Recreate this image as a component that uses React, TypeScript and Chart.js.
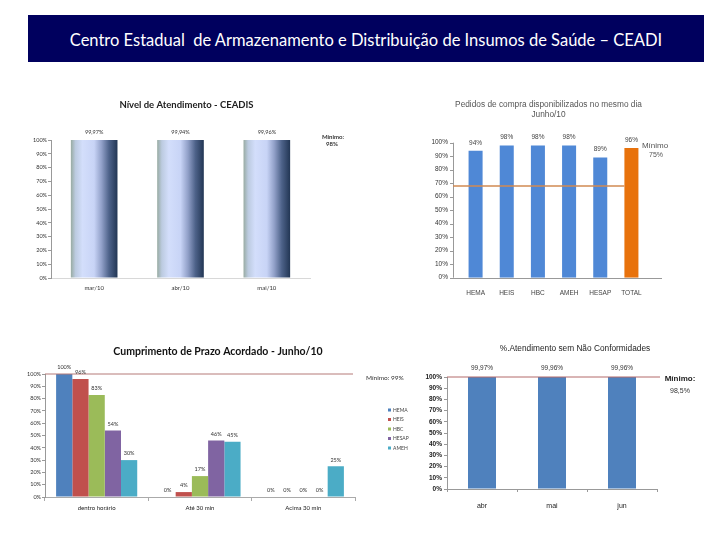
import React, { useEffect, useRef } from 'react';
import { Chart, registerables } from 'chart.js';

Chart.register(...registerables);

// ---------- data ----------
const HEADER_TITLE = 'Centro Estadual  de Armazenamento e Distribuição de Insumos de Saúde – CEADI';

// Chart 1
const nivelTitle = 'Nível de Atendimento - CEADIS';
const nivelMonths = ['mar/10', 'abr/10', 'mai/10'];
const nivelValues = [99.97, 99.94, 99.96];
const nivelMinimo = ['Mínimo:', '98%'];

// Chart 2
const pedidosTitle = ['Pedidos de compra disponibilizados no mesmo dia', 'Junho/10'];
const pedidosUnits = ['HEMA', 'HEIS', 'HBC', 'AMEH', 'HESAP', 'TOTAL'];
const pedidosValues = [94, 98, 98, 98, 89, 96];
const pedidosLine = [68];
const pedidosMinimo = ['Mínimo', '75%'];

// Chart 3
const prazoTitle = 'Cumprimento de Prazo Acordado - Junho/10';
const prazoCategories = ['dentro horário', 'Até 30 min', 'Acima 30 min'];
const prazoSeries = ['HEMA', 'HEIS', 'HBC', 'HESAP', 'AMEH'];
const prazoHEMA = [100, 0, 0];
const prazoHEIS = [96, 4, 0];
const prazoHBC = [83, 17, 0];
const prazoHESAP = [54, 46, 0];
const prazoAMEH = [30, 45, 25];
const prazoLine = [100];
const prazoMinimo = 'Mínimo: 99%';

// Chart 4
const confTitle = '%.Atendimento sem Não Conformidades';
const confMonths = ['abr', 'mai', 'jun'];
const confValues = [99.97, 99.96, 99.96];
const confLine = [100];
const confMinimo = ['Mínimo:', '98,5%'];

// ---------- helpers ----------
const FONT = 'Lato, "Open Sans", sans-serif';
const NARROW = '"Liberation Sans Narrow", "Liberation Sans", Arial, sans-serif';

const pct = (v: any) => v + '%';
const pctComma = (v: number) => v.toFixed(2).replace('.', ',') + '%';
const fixW = (w: number) => (scale: any) => { scale.width = w; };
const fixH = (h: number) => (scale: any) => { scale.height = h; };

function drawText(ctx: CanvasRenderingContext2D, s: string, x: number, y: number, font: string, color: string, align: CanvasTextAlign = 'center') {
  ctx.save();
  ctx.font = font;
  ctx.fillStyle = color;
  ctx.textAlign = align;
  ctx.textBaseline = 'middle';
  ctx.fillText(s, x, y);
  ctx.restore();
}

function hLine(ctx: CanvasRenderingContext2D, x1: number, x2: number, y: number, color: string, w: number) {
  ctx.save();
  ctx.strokeStyle = color;
  ctx.lineWidth = w;
  ctx.beginPath();
  ctx.moveTo(x1, y);
  ctx.lineTo(x2, y);
  ctx.stroke();
  ctx.restore();
}

type Box = { left: number; top: number; width: number; height: number };

function ChartCanvas({ box, make }: { box: Box; make: (c: HTMLCanvasElement) => Chart }) {
  const ref = useRef<HTMLCanvasElement>(null);
  useEffect(() => {
    const chart = make(ref.current as HTMLCanvasElement);
    return () => chart.destroy();
  }, []);
  return (
    <canvas
      ref={ref}
      width={box.width}
      height={box.height}
      style={{ position: 'absolute', left: box.left, top: box.top, width: box.width, height: box.height }}
    />
  );
}

// ---------- chart 1 ----------
const NIVEL_BAR = 0.54;
function nivelGradient(c: any) {
  const chart = c.chart;
  const xs = chart.scales && chart.scales.x;
  if (!xs || typeof c.dataIndex !== 'number') return '#c9d6f5';
  const cx = xs.getPixelForValue(c.dataIndex);
  const w = (xs.width / nivelMonths.length) * NIVEL_BAR;
  if (!isFinite(cx) || !isFinite(w)) return '#c9d6f5';
  const g = chart.ctx.createLinearGradient(cx - w / 2, 0, cx + w / 2, 0);
  g.addColorStop(0, '#98aba2');
  g.addColorStop(0.1, '#bccbe0');
  g.addColorStop(0.25, '#d3defb');
  g.addColorStop(0.5, '#c8d4f6');
  g.addColorStop(0.66, '#91a0c8');
  g.addColorStop(0.82, '#4d6289');
  g.addColorStop(1, '#223654');
  return g;
}

function makeNivel(canvas: HTMLCanvasElement) {
  return new Chart(canvas, {
    type: 'bar',
    data: {
      labels: nivelMonths,
      datasets: [{ data: nivelValues, backgroundColor: nivelGradient, borderWidth: 0, barPercentage: NIVEL_BAR, categoryPercentage: 1 }],
    },
    options: {
      responsive: false,
      animation: false,
      layout: { padding: { left: 1, top: 50, right: 50, bottom: 2 } },
      plugins: { legend: { display: false }, tooltip: { enabled: false }, title: { display: false } },
      scales: {
        x: {
          grid: { display: false, drawTicks: false },
          border: { display: true, color: '#d8d8d8' },
          ticks: { padding: 6, font: { family: FONT, size: 6 }, color: '#333', maxRotation: 0 },
          afterFit: fixH(20),
        },
        y: {
          min: 0,
          max: 100,
          ticks: { stepSize: 10, callback: pct, padding: 1, font: { family: FONT, size: 5.5 }, color: '#333' },
          grid: { drawOnChartArea: false, drawTicks: true, tickLength: 3, color: '#999' },
          border: { color: '#999' },
          afterFit: fixW(20),
        },
      },
    } as any,
    plugins: [
      {
        id: 'nivelDeco',
        afterDraw(chart: any) {
          const ctx = chart.ctx;
          const a = chart.chartArea;
          drawText(ctx, nivelTitle, (a.left + a.right) / 2 + 6, 15, `bold 9.5px ${FONT}`, '#222');
          chart.getDatasetMeta(0).data.forEach((bar: any, i: number) => {
            drawText(ctx, pctComma(nivelValues[i]), bar.x, bar.y - 8, `5.5px ${FONT}`, '#333');
          });
          drawText(ctx, nivelMinimo[0], a.right + 23, a.top - 3, `bold 6px ${FONT}`, '#333');
          drawText(ctx, nivelMinimo[1], a.right + 22, a.top + 4, `bold 6px ${FONT}`, '#333');
        },
      },
    ],
  });
}

// ---------- chart 2 ----------
function makePedidos(canvas: HTMLCanvasElement) {
  return new Chart(canvas, {
    type: 'bar',
    data: {
      labels: pedidosUnits,
      datasets: [
        {
          data: pedidosValues,
          backgroundColor: pedidosUnits.map((u) => (u === 'TOTAL' ? '#e8720c' : '#4f88d6')),
          borderWidth: 0,
          barPercentage: 0.45,
          categoryPercentage: 1,
        },
      ],
    },
    options: {
      responsive: false,
      animation: false,
      layout: { padding: { left: 10, top: 52.7, right: 58, bottom: 0.3 } },
      plugins: { legend: { display: false }, tooltip: { enabled: false }, title: { display: false } },
      scales: {
        x: {
          grid: { display: false, drawTicks: false },
          border: { display: false },
          ticks: { padding: 11.8, font: { family: NARROW, size: 6.5 }, color: '#444', maxRotation: 0 },
          afterFit: fixH(22),
        },
        y: {
          min: 0,
          max: 100,
          ticks: { stepSize: 10, callback: pct, padding: 12, font: { family: NARROW, size: 6.5 }, color: '#333' },
          grid: { display: false, drawTicks: false },
          border: { display: false },
          afterFit: fixW(30),
        },
      },
    } as any,
    plugins: [
      {
        id: 'pedidosDeco',
        beforeDatasetsDraw(chart: any) {
          const ctx = chart.ctx;
          const a = chart.chartArea;
          const ys = chart.scales.y;
          const ax = a.left - 7;
          ctx.save();
          ctx.strokeStyle = '#999';
          ctx.lineWidth = 1;
          ctx.beginPath();
          ctx.moveTo(ax + 0.5, a.top);
          ctx.lineTo(ax + 0.5, a.bottom);
          ys.ticks.forEach((t: any) => {
            const y = Math.round(ys.getPixelForValue(t.value)) + 0.5;
            ctx.moveTo(ax - 3, y);
            ctx.lineTo(ax + 0.5, y);
          });
          ctx.stroke();
          ctx.restore();
          hLine(ctx, ax, a.right + 15, Math.round(a.bottom) + 0.5, '#999', 1);
        },
        afterDatasetsDraw(chart: any) {
          const ctx = chart.ctx;
          const a = chart.chartArea;
          const ys = chart.scales.y;
          const bars = chart.getDatasetMeta(0).data;
          const last = bars[bars.length - 1];
          const y = ys.getPixelForValue(pedidosLine[0]);
          hLine(ctx, a.left - 7, last.x - last.width / 2, y, '#d08a52', 1.5);
        },
        afterDraw(chart: any) {
          const ctx = chart.ctx;
          const a = chart.chartArea;
          const cx = (a.left + a.right) / 2 - 5;
          drawText(ctx, pedidosTitle[0], cx, 15, `8.3px ${NARROW}`, '#555');
          drawText(ctx, pedidosTitle[1], cx, 25, `8.3px ${NARROW}`, '#555');
          chart.getDatasetMeta(0).data.forEach((bar: any, i: number) => {
            drawText(ctx, pct(pedidosValues[i]), bar.x, bar.y - 8, `6.5px ${NARROW}`, '#444');
          });
          drawText(ctx, pedidosMinimo[0], a.right + 8, a.top + 3.5, `8px ${NARROW}`, '#555');
          drawText(ctx, pedidosMinimo[1], a.right + 9, a.top + 12.5, `7px ${NARROW}`, '#555');
        },
      },
    ],
  });
}

// ---------- chart 3 ----------
const prazoColors = ['#4F81BD', '#C0504D', '#9BBB59', '#8064A2', '#4BACC6'];
const prazoData = [prazoHEMA, prazoHEIS, prazoHBC, prazoHESAP, prazoAMEH];

function makePrazo(canvas: HTMLCanvasElement) {
  return new Chart(canvas, {
    type: 'bar',
    data: {
      labels: prazoCategories,
      datasets: prazoSeries.map((name, i) => ({
        label: name,
        data: prazoData[i],
        backgroundColor: prazoColors[i],
        borderWidth: 0,
        barPercentage: 1,
        categoryPercentage: 0.785,
      })),
    },
    options: {
      responsive: false,
      animation: false,
      layout: { padding: { left: 5, top: 39, right: 65, bottom: 0 } },
      plugins: { legend: { display: false }, tooltip: { enabled: false }, title: { display: false } },
      scales: {
        x: {
          grid: { display: true, drawOnChartArea: false, drawTicks: true, tickLength: 4, color: '#aaa', offset: true },
          border: { color: '#aaa' },
          ticks: { padding: 3, font: { family: FONT, size: 6 }, color: '#222', maxRotation: 0 },
          afterFit: fixH(18),
        },
        y: {
          min: 0,
          max: 100,
          ticks: { stepSize: 10, callback: pct, padding: 1, font: { family: FONT, size: 5.5 }, color: '#333' },
          grid: { drawOnChartArea: false, drawTicks: true, tickLength: 3, color: '#999' },
          border: { color: '#999' },
          afterFit: fixW(20),
        },
      },
    } as any,
    plugins: [
      {
        id: 'prazoDeco',
        afterDatasetsDraw(chart: any) {
          const a = chart.chartArea;
          const y = chart.scales.y.getPixelForValue(prazoLine[0]);
          hLine(chart.ctx, a.left, a.right - 2, y, '#b57a78', 1);
        },
        afterDraw(chart: any) {
          const ctx = chart.ctx;
          const a = chart.chartArea;
          drawText(ctx, prazoTitle, (a.left + a.right) / 2 + 18, 17, `bold 10.5px ${FONT}`, '#111');
          prazoData.forEach((vals, di) => {
            chart.getDatasetMeta(di).data.forEach((bar: any, i: number) => {
              drawText(ctx, pct(vals[i]), bar.x, bar.y - 6.5, `5.5px ${FONT}`, '#333');
            });
          });
          drawText(ctx, prazoMinimo, a.right + 11, a.top + 3.5, `6.5px ${FONT}`, '#333', 'left');
          prazoSeries.forEach((name, i) => {
            const y = 75 + i * 9.5;
            ctx.fillStyle = prazoColors[i];
            ctx.fillRect(a.right + 33, y - 1.5, 3, 3);
            drawText(ctx, name, a.right + 38, y, `5px ${FONT}`, '#444', 'left');
          });
        },
      },
    ],
  });
}

// ---------- chart 4 ----------
function makeConf(canvas: HTMLCanvasElement) {
  return new Chart(canvas, {
    type: 'bar',
    data: {
      labels: confMonths,
      datasets: [{ data: confValues, backgroundColor: '#4F81BD', borderWidth: 0, barPercentage: 0.4, categoryPercentage: 1 }],
    },
    options: {
      responsive: false,
      animation: false,
      layout: { padding: { left: 5, top: 42, right: 48, bottom: 2 } },
      plugins: { legend: { display: false }, tooltip: { enabled: false }, title: { display: false } },
      scales: {
        x: {
          grid: { display: true, drawOnChartArea: false, drawTicks: true, tickLength: 3, color: '#999', offset: true },
          border: { color: '#999' },
          ticks: { padding: 9.5, font: { family: NARROW, size: 7 }, color: '#222', maxRotation: 0 },
          afterFit: fixH(24),
        },
        y: {
          min: 0,
          max: 100,
          ticks: { stepSize: 10, callback: pct, padding: 2, font: { family: NARROW, size: 6.5, weight: 'bold' }, color: '#222' },
          grid: { drawOnChartArea: false, drawTicks: true, tickLength: 3, color: '#999' },
          border: { color: '#999' },
          afterFit: fixW(22),
        },
      },
    } as any,
    plugins: [
      {
        id: 'confDeco',
        afterDatasetsDraw(chart: any) {
          const a = chart.chartArea;
          const y = chart.scales.y.getPixelForValue(confLine[0]);
          hLine(chart.ctx, a.left, a.right + 3, y, '#b36a6a', 1);
        },
        afterDraw(chart: any) {
          const ctx = chart.ctx;
          const a = chart.chartArea;
          drawText(ctx, confTitle, (a.left + a.right) / 2 + 23, 14, `8.3px ${NARROW}`, '#222');
          chart.getDatasetMeta(0).data.forEach((bar: any, i: number) => {
            drawText(ctx, pctComma(confValues[i]), bar.x, bar.y - 9, `6.5px ${NARROW}`, '#333');
          });
          drawText(ctx, confMinimo[0], a.right + 23, a.top + 2, `bold 8px ${NARROW}`, '#222');
          drawText(ctx, confMinimo[1], a.right + 23, a.top + 14, `7px ${NARROW}`, '#333');
        },
      },
    ],
  });
}

export default function App() {
  return (
    <div style={{ position: 'fixed', left: 0, top: 0, width: 720, height: 540, background: '#fff', overflow: 'hidden' }}>
      <div
        style={{
          position: 'absolute',
          left: 28,
          top: 15,
          width: 676,
          height: 47,
          background: '#00005e',
          color: '#fff',
          fontFamily: FONT,
          fontSize: 16.5,
          display: 'flex',
          alignItems: 'center',
          justifyContent: 'center',
          whiteSpace: 'pre',
          boxSizing: 'border-box',
          paddingTop: 2,
        }}
      >
        {HEADER_TITLE}
      </div>
      <ChartCanvas box={{ left: 30, top: 90, width: 330, height: 210 }} make={makeNivel} />
      <ChartCanvas box={{ left: 420, top: 90, width: 285, height: 210 }} make={makePedidos} />
      <ChartCanvas box={{ left: 20, top: 335, width: 400, height: 180 }} make={makePrazo} />
      <ChartCanvas box={{ left: 420, top: 335, width: 285, height: 180 }} make={makeConf} />
    </div>
  );
}
